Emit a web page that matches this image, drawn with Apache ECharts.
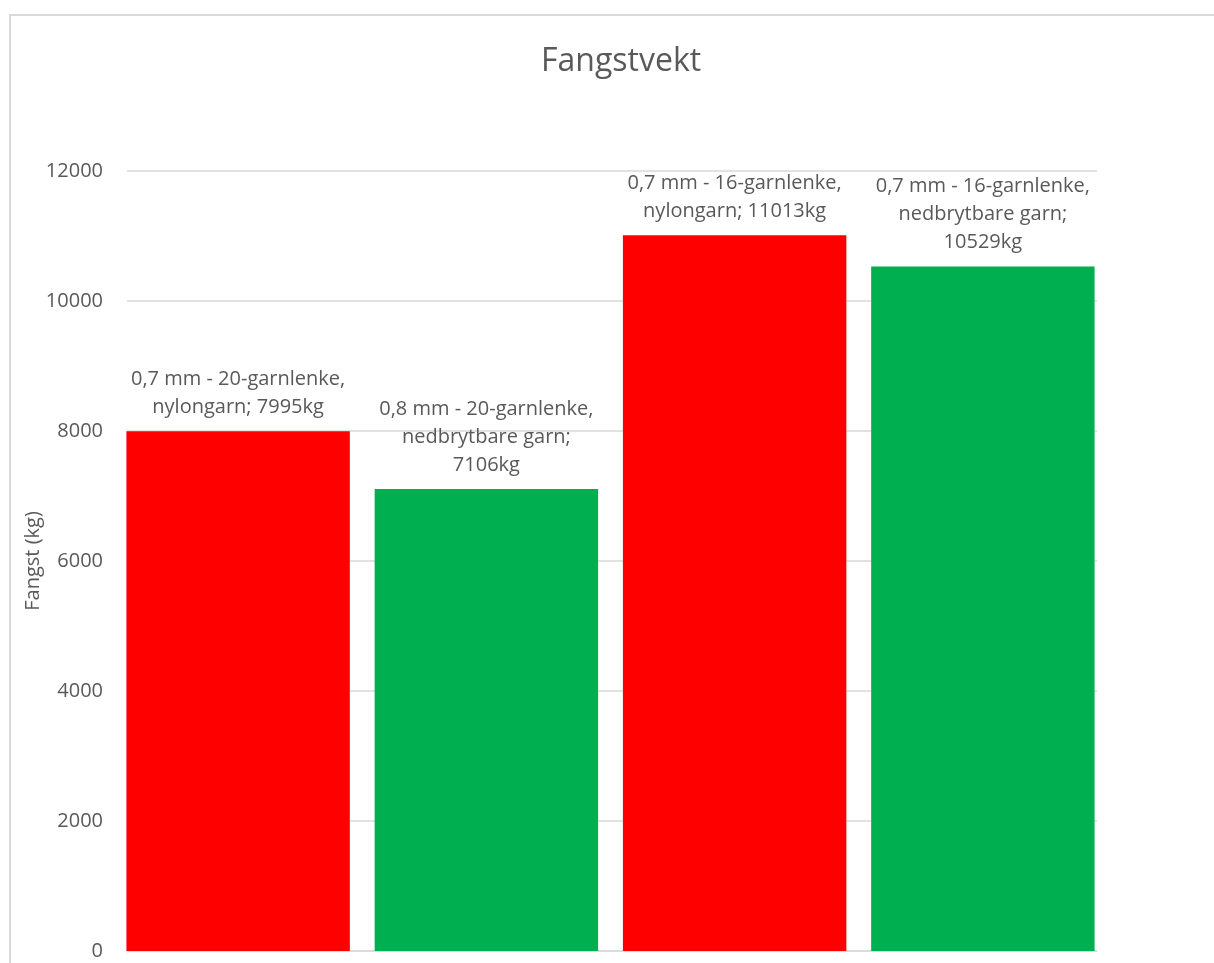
<!DOCTYPE html>
<html>
<head>
<meta charset="utf-8">
<script src="https://cdn.jsdelivr.net/npm/echarts@6/dist/echarts.min.js"></script>
<style>
  html, body { margin: 0; padding: 0; background: #fff; }
  #chart { width: 1214px; height: 963px; }
</style>
</head>
<body>
<div id="chart"></div>
<script>
/* data */
var categories = ['A', 'B', 'C', 'D'];
var values = [7995, 7106, 11013, 10529];
var barLabels = [
  '0,7 mm - 20-garnlenke,\nnylongarn; 7995kg',
  '0,8 mm - 20-garnlenke,\nnedbrytbare garn;\n7106kg',
  '0,7 mm - 16-garnlenke,\nnylongarn; 11013kg',
  '0,7 mm - 16-garnlenke,\nnedbrytbare garn;\n10529kg'
];
var barColors = ['#ff0000', '#00b050', '#ff0000', '#00b050'];
var yTicks = { min: 0, max: 12000, interval: 2000 };

var FONT = '"Open Sans", Lato, sans-serif';
var TEXT = '#595959';

var chart = echarts.init(document.getElementById('chart'));

chart.setOption({
  backgroundColor: '#fff',
  animation: false,
  title: {
    text: 'Fangstvekt',
    left: 536,
    top: 41,
    textStyle: { fontFamily: FONT, fontSize: 32, fontWeight: 'normal', color: TEXT }
  },
  graphic: [{
    type: 'rect',
    shape: { x: 10, y: 15, width: 1260, height: 1000 },
    style: { fill: 'none', stroke: '#d9d9d9', lineWidth: 2 },
    silent: true
  }],
  grid: [
    // axis + gridlines
    { left: 127, right: 117, top: 171, bottom: 12 },
    // bars
    { left: 114, right: 107, top: 171, bottom: 12 }
  ],
  xAxis: [
    {
      gridIndex: 0, type: 'category', data: categories,
      axisLine: { lineStyle: { color: '#d9d9d9', width: 1.5 } },
      axisTick: { show: false }, axisLabel: { show: false }
    },
    {
      gridIndex: 1, type: 'category', data: categories, show: false
    }
  ],
  yAxis: [
    {
      gridIndex: 0, type: 'value',
      min: yTicks.min, max: yTicks.max, interval: yTicks.interval,
      name: 'Fangst (kg)', nameLocation: 'middle', nameGap: 84,
      nameMoveOverlap: false,
      nameTextStyle: { fontFamily: FONT, fontSize: 20, color: TEXT },
      axisLine: { show: false }, axisTick: { show: false },
      axisLabel: {
        fontFamily: FONT, fontSize: 20, color: TEXT, margin: 24,
        formatter: function (v) { return String(v); }
      },
      splitLine: { lineStyle: { color: '#d9d9d9', width: 1.5 } }
    },
    {
      gridIndex: 1, type: 'value',
      min: yTicks.min, max: yTicks.max, interval: yTicks.interval,
      show: false, splitLine: { show: false }
    }
  ],
  series: [{
    type: 'bar',
    xAxisIndex: 1, yAxisIndex: 1,
    barCategoryGap: '10%',
    data: values.map(function (v, i) {
      return { value: v, itemStyle: { color: barColors[i] } };
    }),
    label: {
      show: true,
      position: 'top',
      distance: 10,
      fontFamily: FONT,
      fontSize: 20,
      lineHeight: 28,
      color: TEXT,
      formatter: function (p) { return barLabels[p.dataIndex]; }
    }
  }]
});
</script>
</body>
</html>
